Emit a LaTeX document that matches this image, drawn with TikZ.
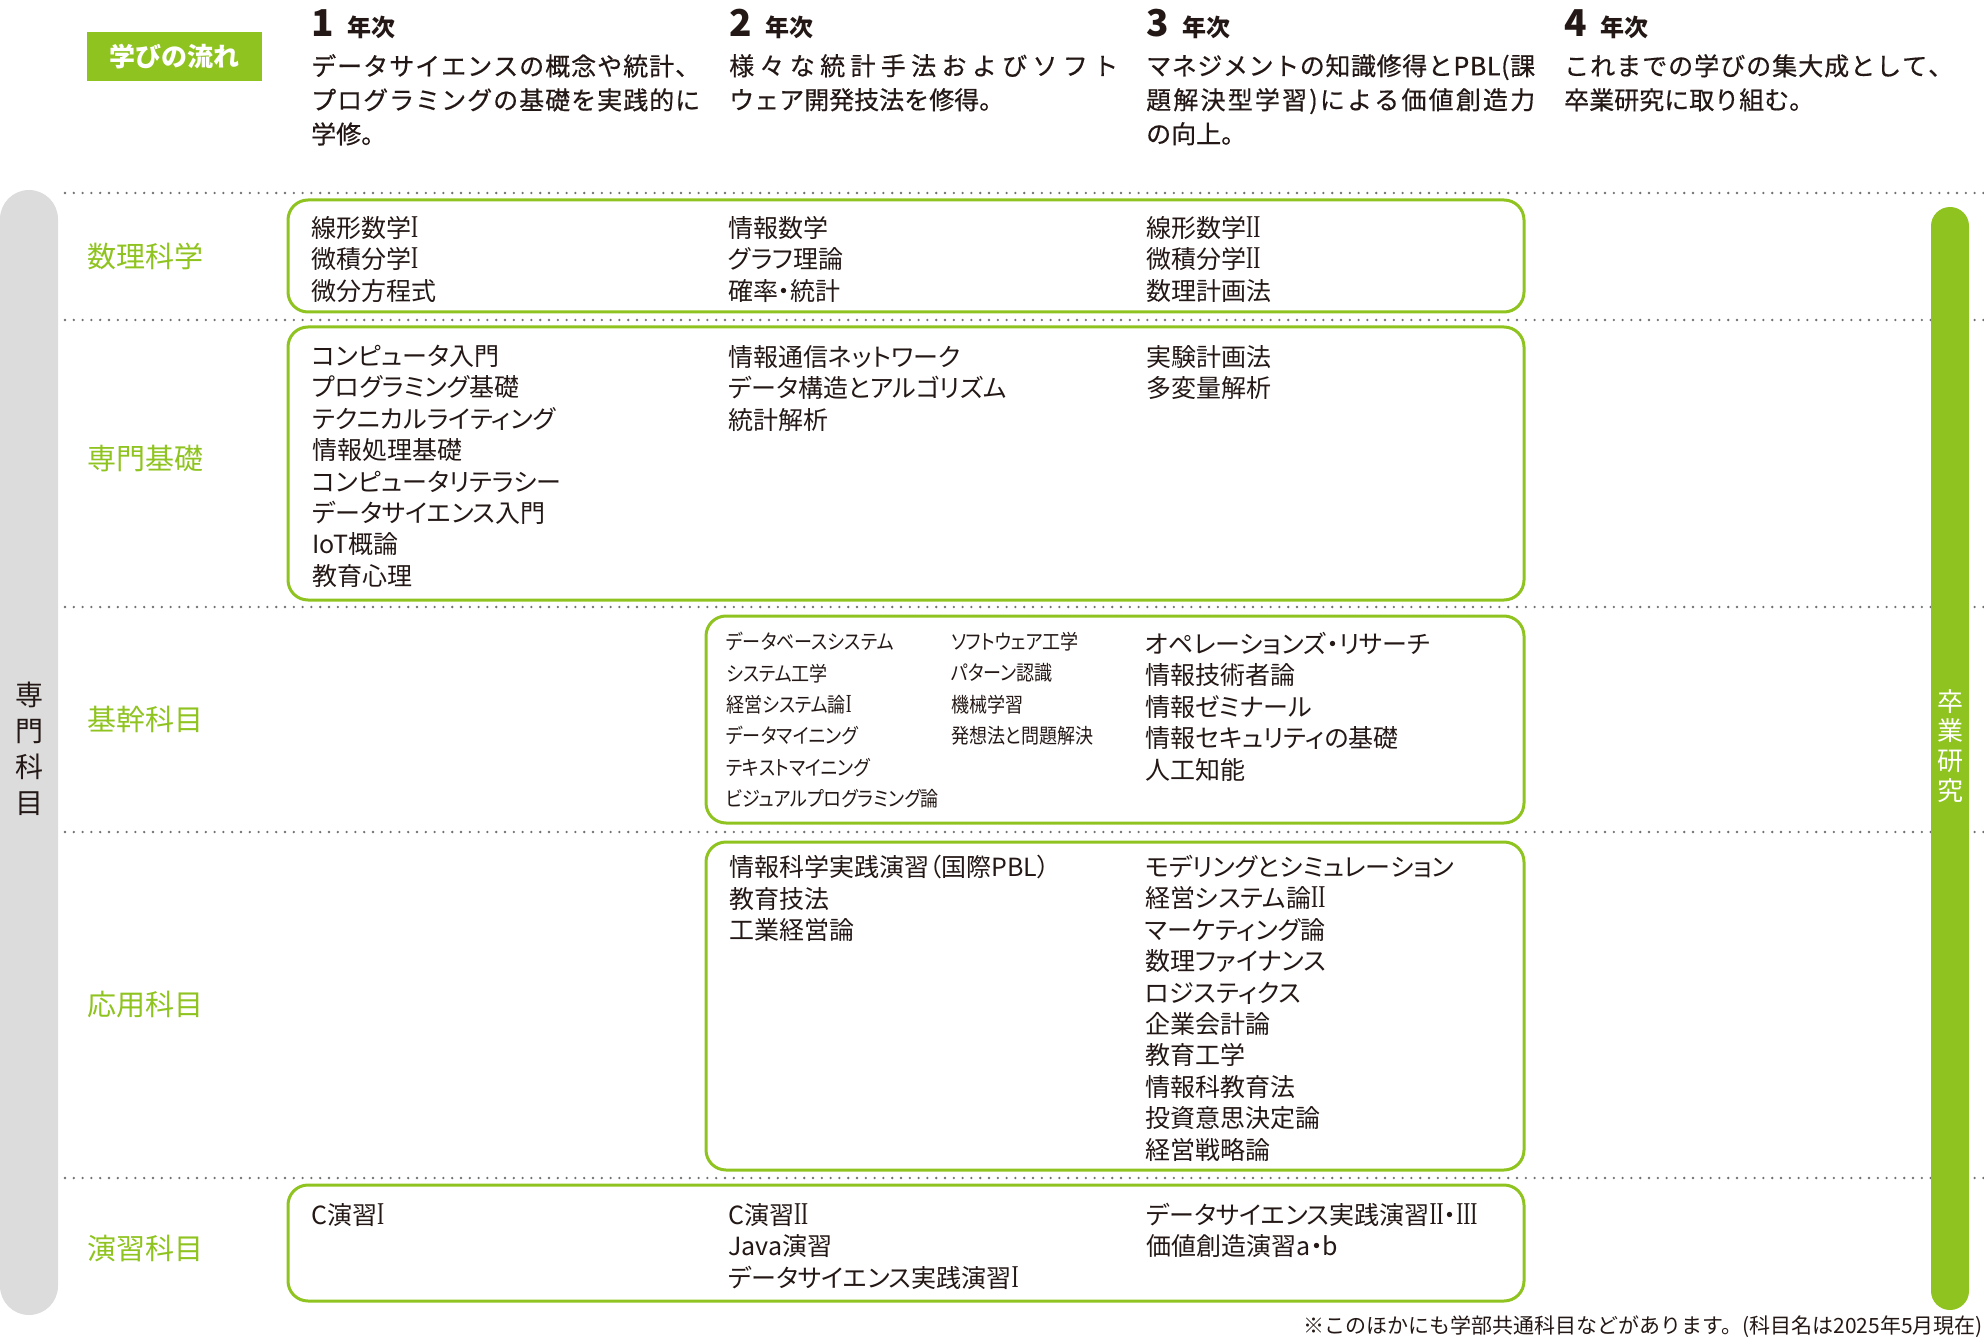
\documentclass[tikz,border=0pt]{standalone}
\usepackage{graphicx}
\usepackage{fontspec}
\setmainfont{Noto Sans CJK JP}
\newfontfamily\jp[RawFeature=+palt]{Noto Sans CJK JP}
\newfontfamily\jpc[RawFeature=+palt,FakeStretch=0.88]{Noto Sans CJK JP}
\newfontfamily\jpm[FakeBold=0.5]{Noto Sans CJK JP}
\newfontfamily\jpn{Noto Sans CJK JP}
\newfontfamily\rmn{Liberation Serif}
\newcommand\rmnum[1]{{\rmn\scalebox{0.85}[1.27]{#1}}}
\definecolor{grn}{HTML}{8FC31F}
\definecolor{gry}{HTML}{DCDCDC}
\definecolor{dotc}{HTML}{727171}
\definecolor{ink}{HTML}{231815}
\newcommand\sprd[1]{\makebox[389pt][s]{\sprdi#1\relax}}
\def\sprdi#1{#1\sprdii}
\def\sprdii#1{\ifx#1\relax\else\hfil#1\expandafter\sprdii\fi}
\tikzset{
  cbox/.style={draw=grn, line width=3pt, rounded corners=20pt},
  dotline/.style={draw=dotc, line width=2.6pt, line cap=round, dash pattern=on 0pt off 8.8pt},
  lst/.style={anchor=north west, inner sep=0pt, align=left, text=ink, font=\jp\fontsize{25}{31.4}\selectfont},
  lsts/.style={anchor=north west, inner sep=0pt, align=left, text=ink, font=\jpc\fontsize{20.5}{31.4}\selectfont},
  rowlab/.style={anchor=west, inner sep=0pt, text=grn, font=\jp\fontsize{29}{30}\selectfont},
  yearhd/.style={anchor=base west, inner sep=0pt, text=ink},
  desc/.style={anchor=north west, inner sep=0pt, align=left, text=ink, font=\jpm\fontsize{25}{34}\selectfont},
}
\begin{document}
\begin{tikzpicture}[x=1pt,y=-1pt]
\useasboundingbox (0,0) rectangle (1984,1337);
% dotted separators
\foreach \yy in {193,320,607,832,1178}
  \draw[dotline] (65,\yy) -- (1984,\yy);
% course boxes
\draw[cbox] (288,200) rectangle (1524,312);
\draw[cbox] (288,327) rectangle (1524,600);
\draw[cbox] (706,616) rectangle (1524,823);
\draw[cbox] (706,842) rectangle (1524,1170);
\draw[cbox] (288,1185) rectangle (1524,1301);
% side bars
\fill[gry, rounded corners=29pt] (0,190) rectangle (58,1315);
\fill[grn, rounded corners=19pt] (1931,207) rectangle (1969,1310);
\node (senmon) [align=center, inner sep=0pt, text=ink, font=\jpn\fontsize{28}{36}\selectfont] at (29,749) {専\\門\\科\\目};
\node (sotsu) [align=center, inner sep=0pt, text=white, font=\jpn\fontsize{26}{29.7}\selectfont] at (1950,746) {卒\\業\\研\\究};
% header
\fill[grn] (87,32) rectangle (262,81);
\node (flow) [text=white, inner sep=0pt, font=\jpn\bfseries\fontsize{26}{26}\selectfont] at (174.5,56.5) {学びの流れ};
\foreach \n/\xx in {1/311,2/729,3/1146,4/1564}
  \node (yr\n) [yearhd] at (\xx,37) {{\jpn\bfseries\fontsize{37}{37}\selectfont \n}\hspace{14pt}{\jpn\bfseries\fontsize{24}{24}\selectfont 年次}};
\node (d1) [desc] at (311,54) {\sprd{データサイエンスの概念や統計、}\\\sprd{プログラミングの基礎を実践的に}\\学修。};
\node (d2) [desc] at (729,54) {\sprd{様々な統計手法およびソフト}\\ウェア開発技法を修得。};
\node (d3) [desc] at (1146,54) {\sprd{マネジメントの知識修得とPBL(課}\\\sprd{題解決型学習)による価値創造力}\\の向上。};
\node (d4) [desc] at (1564,54) {\sprd{これまでの学びの集大成として、}\\卒業研究に取り組む。};
% row labels
\node (l1) [rowlab] at (87,256) {数理科学};
\node (l2) [rowlab] at (87,459) {専門基礎};
\node (l3) [rowlab] at (87,719) {基幹科目};
\node (l4) [rowlab] at (87,1005) {応用科目};
\node (l5) [rowlab] at (87,1248) {演習科目};
% row 1
\node (r1a) [lst] at (311,216) {線形数学\rmnum{I}\\微積分学\rmnum{I}\\微分方程式};
\node (r1b) [lst] at (728,216) {情報数学\\グラフ理論\\確率・統計};
\node (r1c) [lst] at (1146,216) {線形数学\rmnum{II}\\微積分学\rmnum{II}\\数理計画法};
% row 2
\node (r2a) [lst] at (312,345) {コンピュータ入門\\プログラミング基礎\\テクニカルライティング\\情報処理基礎\\コンピュータリテラシー\\データサイエンス入門\\IoT概論\\教育心理};
\node (r2b) [lst] at (728,345) {情報通信ネットワーク\\データ構造とアルゴリズム\\統計解析};
\node (r2c) [lst] at (1146,345) {実験計画法\\多変量解析};
% row 3
\node (r3a) [lsts] at (726,632) {データベースシステム\\システム工学\\経営システム論\rmnum{I}\\データマイニング\\テキストマイニング\\ビジュアルプログラミング論};
\node (r3b) [lsts] at (951,632) {ソフトウェア工学\\パターン認識\\機械学習\\発想法と問題解決};
\node (r3c) [lst] at (1145,632) {オペレーションズ・リサーチ\\情報技術者論\\情報ゼミナール\\情報セキュリティの基礎\\人工知能};
% row 4
\node (r4a) [lst] at (729,855) {情報科学実践演習（国際PBL）\\教育技法\\工業経営論};
\node (r4b) [lst] at (1145,855) {モデリングとシミュレーション\\経営システム論\rmnum{II}\\マーケティング論\\数理ファイナンス\\ロジスティクス\\企業会計論\\教育工学\\情報科教育法\\投資意思決定論\\経営戦略論};
% row 5
\node (r5a) [lst] at (311,1203) {C演習\rmnum{I}};
\node (r5b) [lst] at (728,1203) {C演習\rmnum{II}\\Java演習\\データサイエンス実践演習\rmnum{I}};
\node (r5c) [lst] at (1146,1203) {データサイエンス実践演習\rmnum{II}・\rmnum{III}\\価値創造演習a・b};
% footnote
\node (note) [anchor=north east, inner sep=0pt, text=ink, font=\jpn\fontsize{21}{21}\selectfont] at (1983,1316) {※このほかにも学部共通科目などがあります。(科目名は2025年5月現在)};
\end{tikzpicture}
\end{document}
